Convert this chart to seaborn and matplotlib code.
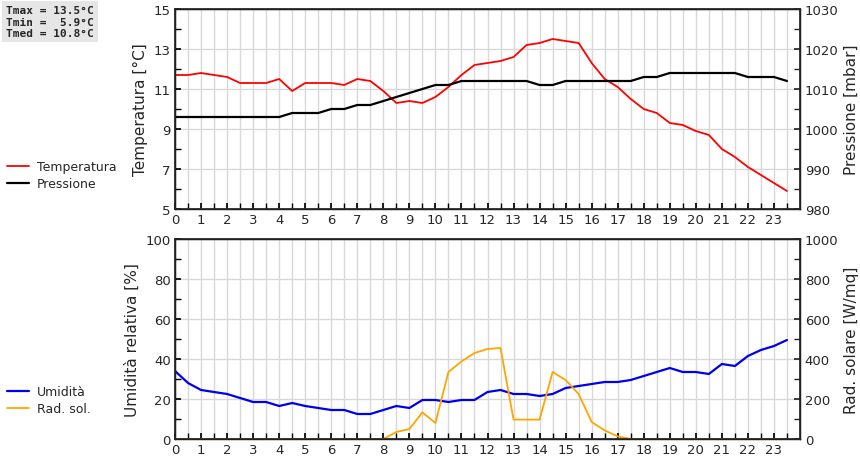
import numpy as np
import matplotlib
matplotlib.use("Agg")
import matplotlib.pyplot as plt
import seaborn as sns

sns.set_theme(style="white")
plt.rcParams["font.family"] = "DejaVu Sans"

hours = np.arange(0, 24, 0.5)
temperature = [11.7, 11.7, 11.8, 11.7, 11.6, 11.3, 11.3, 11.3, 11.5, 10.9, 11.3, 11.3,
               11.3, 11.2, 11.5, 11.4, 10.9, 10.3, 10.4, 10.3, 10.6, 11.1, 11.7, 12.2,
               12.3, 12.4, 12.6, 13.2, 13.3, 13.5, 13.4, 13.3, 12.3, 11.5, 11.1, 10.5,
               10.0, 9.8, 9.3, 9.2, 8.9, 8.7, 8.0, 7.6, 7.1, 6.7, 6.3, 5.9]
pressure = [1003, 1003, 1003, 1003, 1003, 1003, 1003, 1003, 1003, 1004, 1004, 1004,
            1005, 1005, 1006, 1006, 1007, 1008, 1009, 1010, 1011, 1011, 1012, 1012,
            1012, 1012, 1012, 1012, 1011, 1011, 1012, 1012, 1012, 1012, 1012, 1012,
            1013, 1013, 1014, 1014, 1014, 1014, 1014, 1014, 1013, 1013, 1013, 1012]
humidity = [34, 28, 24.5, 23.5, 22.5, 20.5, 18.5, 18.5, 16.5, 18, 16.5, 15.5,
            14.5, 14.5, 12.5, 12.5, 14.5, 16.5, 15.5, 19.5, 19.5, 18.5, 19.5, 19.5,
            23.5, 24.5, 22.5, 22.5, 21.5, 22.5, 25.5, 26.5, 27.5, 28.5, 28.5, 29.5,
            31.5, 33.5, 35.5, 33.5, 33.5, 32.5, 37.5, 36.5, 41.5, 44.5, 46.5, 49.5]
radiation = [0, 0, 0, 0, 0, 0, 0, 0, 0, 0, 0, 0,
             0, 0, 0, 0, 0, 35, 50, 133, 80, 335, 388, 430,
             450, 455, 97, 97, 97, 335, 295, 225, 85, 43, 13, 0,
             0, 0, 0, 0, 0, 0, 0, 0, 0, 0, 0, 0]
stats_text = "Tmax = 13.5°C\nTmin =  5.9°C\nTmed = 10.8°C"

fig = plt.figure(figsize=(8.6, 4.6), dpi=100)
W, H = 860, 460
ax1 = fig.add_axes([175 / W, 1 - 210 / H, 625 / W, 200 / H])
ax3 = fig.add_axes([175 / W, 1 - 440 / H, 625 / W, 200 / H])


def style_axes(ax, ymin, ymax, major, minor):
    ax.set_xlim(0, 24)
    ax.set_ylim(ymin, ymax)
    ax.set_xticks(range(0, 24))
    ax.set_xticks(np.arange(0.5, 24, 0.5), minor=True)
    ax.set_yticks(np.arange(ymin, ymax + 0.01, major))
    ax.set_yticks(np.arange(ymin, ymax + 0.01, minor), minor=True)
    ax.grid(True, axis="x", which="both", color="#d8d8d8", linewidth=1)
    ax.grid(True, axis="y", which="major", color="#d8d8d8", linewidth=1)
    ax.set_axisbelow(True)
    ax.tick_params(axis="both", which="both", direction="in", length=4,
                   labelsize=9.5, color="black", left=True, bottom=True, pad=3)
    for s in ax.spines.values():
        s.set_color("black")
        s.set_linewidth(1)


style_axes(ax1, 5, 15, 2, 1)
sns.lineplot(x=hours, y=temperature, ax=ax1, color="red", linewidth=1.3, label="Temperatura", legend=False)
ax1.set_ylabel("Temperatura [°C]", fontsize=11)
ax2 = ax1.twinx()
ax2.set_ylim(980, 1030)
ax2.set_yticks(range(980, 1031, 10))
ax2.set_yticks(range(985, 1030, 10), minor=True)
ax2.tick_params(axis="y", which="both", direction="in", length=4, labelsize=9.5, right=True)
sns.lineplot(x=hours, y=pressure, ax=ax2, color="black", linewidth=1.6, label="Pressione", legend=False)
ax2.set_ylabel("Pressione [mbar]", fontsize=11)

style_axes(ax3, 0, 100, 20, 10)
sns.lineplot(x=hours, y=humidity, ax=ax3, color="#0000ee", linewidth=1.6, label="Umidità", legend=False)
ax3.set_ylabel("Umidità relativa [%]", fontsize=11)
ax4 = ax3.twinx()
ax4.set_ylim(0, 1000)
ax4.set_yticks(range(0, 1001, 200))
ax4.set_yticks(range(100, 1000, 200), minor=True)
ax4.tick_params(axis="y", which="both", direction="in", length=4, labelsize=9.5, right=True)
sns.lineplot(x=hours, y=radiation, ax=ax4, color="orange", linewidth=1.3, label="Rad. sol.", legend=False)
ax4.set_ylabel("Rad. solare [W/mq]", fontsize=11)
ax1.set_xlabel("")
ax3.set_xlabel("")

h1 = ax1.get_lines()[:1] + ax2.get_lines()[:1]
fig.legend(h1, ["Temperatura", "Pressione"], loc="upper left", bbox_to_anchor=(-0.005, 1 - 150 / H),
           frameon=False, fontsize=9, handlelength=1.8, handletextpad=0.6, labelspacing=0.3)
h2 = ax3.get_lines()[:1] + ax4.get_lines()[:1]
fig.legend(h2, ["Umidità", "Rad. sol."], loc="upper left", bbox_to_anchor=(-0.005, 1 - 375 / H),
           frameon=False, fontsize=9, handlelength=1.8, handletextpad=0.6, labelspacing=0.3)

fig.text(6 / W, 1 - 6 / H, stats_text, ha="left", va="top", family="DejaVu Sans Mono",
         fontsize=8, fontweight="bold",
         bbox=dict(boxstyle="square,pad=0.35", facecolor="#e6e6e6", edgecolor="none"))

fig.savefig("out.png", dpi=100)
